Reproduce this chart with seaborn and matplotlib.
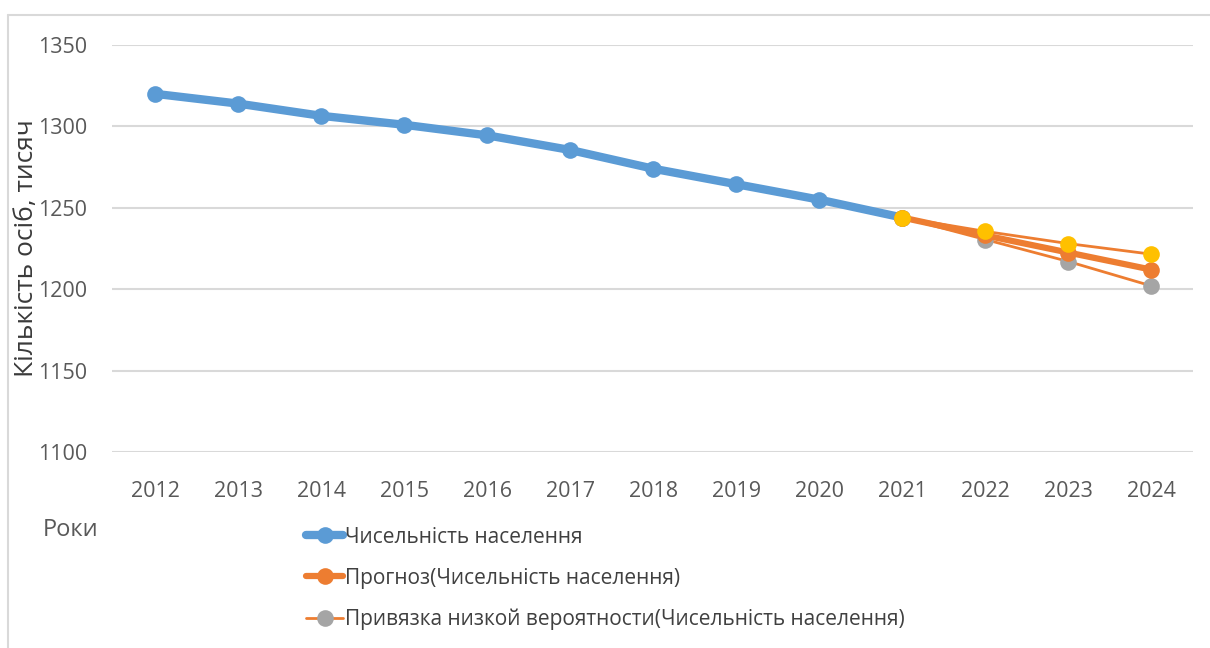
import numpy as np
import pandas as pd
import matplotlib
matplotlib.use('Agg')
import matplotlib.pyplot as plt
from matplotlib.lines import Line2D
import seaborn as sns

# дані
roky = [2012, 2013, 2014, 2015, 2016, 2017, 2018, 2019, 2020, 2021]
naselennia = [1320, 1314, 1306.5, 1301, 1294.5, 1285.5, 1274, 1264.5, 1255, 1244]

roky_prognoz = [2021, 2022, 2023, 2024]
prognoz = [1244, 1233, 1222.5, 1212]
nyzhnia = [1244, 1230.5, 1217, 1202]
verkhnia = [1244, 1235.5, 1228, 1221.5]

yticks = [1100, 1150, 1200, 1250, 1300, 1350]
legend_labels = ['Чисельність населення',
                 'Прогноз(Чисельність населення)',
                 'Привязка низкой вероятности(Чисельність населення)']

sns.set_theme(style='white')
plt.rcParams['font.family'] = ['Open Sans', 'DejaVu Sans']

blue = '#5B9BD5'
orange = '#ED7D31'
grey = '#A5A5A5'
yellow = '#FFC000'

fig = plt.figure(figsize=(12.1, 6.48), dpi=100)
ax = fig.add_axes([112 / 1210, 1 - 452 / 648, (1193 - 112) / 1210, (452 - 45) / 648])

df_main = pd.DataFrame({'rik': roky, 'n': naselennia})
df_prog = pd.DataFrame({'rik': roky_prognoz, 'prognoz': prognoz,
                        'low': nyzhnia, 'high': verkhnia})

sns.lineplot(data=df_main, x='rik', y='n', ax=ax, color=blue, lw=6,
             marker='o', markersize=12, markeredgewidth=0, zorder=3)
sns.lineplot(data=df_prog, x='rik', y='low', ax=ax, color=orange, lw=2,
             marker='o', markersize=12, markerfacecolor=grey,
             markeredgewidth=0, zorder=4)
sns.lineplot(data=df_prog, x='rik', y='high', ax=ax, color=orange, lw=2,
             marker='o', markersize=12, markerfacecolor=yellow,
             markeredgewidth=0, zorder=6)
sns.lineplot(data=df_prog, x='rik', y='prognoz', ax=ax, color=orange, lw=4.5,
             marker='o', markersize=12, markeredgewidth=0, zorder=5)

ax.set_xlim(2011.48, 2024.5)
ax.set_ylim(1100, 1350)
ax.set_yticks(yticks)
ax.set_xticks(roky + roky_prognoz[1:])
ax.yaxis.grid(True, color='#D9D9D9', lw=1.5)
ax.set_axisbelow(True)
for s in ax.spines.values():
    s.set_visible(False)
ax.tick_params(axis='both', length=0, labelsize=15.5, colors='#595959')
ax.tick_params(axis='x', pad=21)
ax.tick_params(axis='y', pad=18)
ax.set_xlabel('')
ax.set_ylabel('')

fig.text(27 / 1210, 1 - 248 / 648, 'Кількість осіб, тисяч', rotation=90,
         ha='center', va='center', fontsize=19, color='#3A3A3A')
fig.text(43 / 1210, 1 - 530 / 648, 'Роки', ha='left', va='center',
         fontsize=17, color='#595959')

# рамка
fig.add_artist(Line2D([8 / 1210, 8 / 1210], [0, 1 - 15 / 648],
                      color='#D9D9D9', lw=1.5))
fig.add_artist(Line2D([8 / 1210, 1], [1 - 15 / 648, 1 - 15 / 648],
                      color='#D9D9D9', lw=1.5))

handles = [
    Line2D([], [], color=blue, lw=6, marker='o', markersize=12, markeredgewidth=0),
    Line2D([], [], color=orange, lw=4.5, marker='o', markersize=12, markeredgewidth=0),
    Line2D([], [], color=orange, lw=2, marker='o', markersize=12,
           markerfacecolor=grey, markeredgewidth=0),
]
leg = fig.legend(handles, legend_labels, loc='upper left',
                 bbox_to_anchor=(287 / 1210, 1 - 508 / 648), frameon=False,
                 fontsize=15, handlelength=1.8, handletextpad=0.1,
                 labelspacing=0.95, labelcolor='#404040')

fig.savefig('out.png', dpi=100)
